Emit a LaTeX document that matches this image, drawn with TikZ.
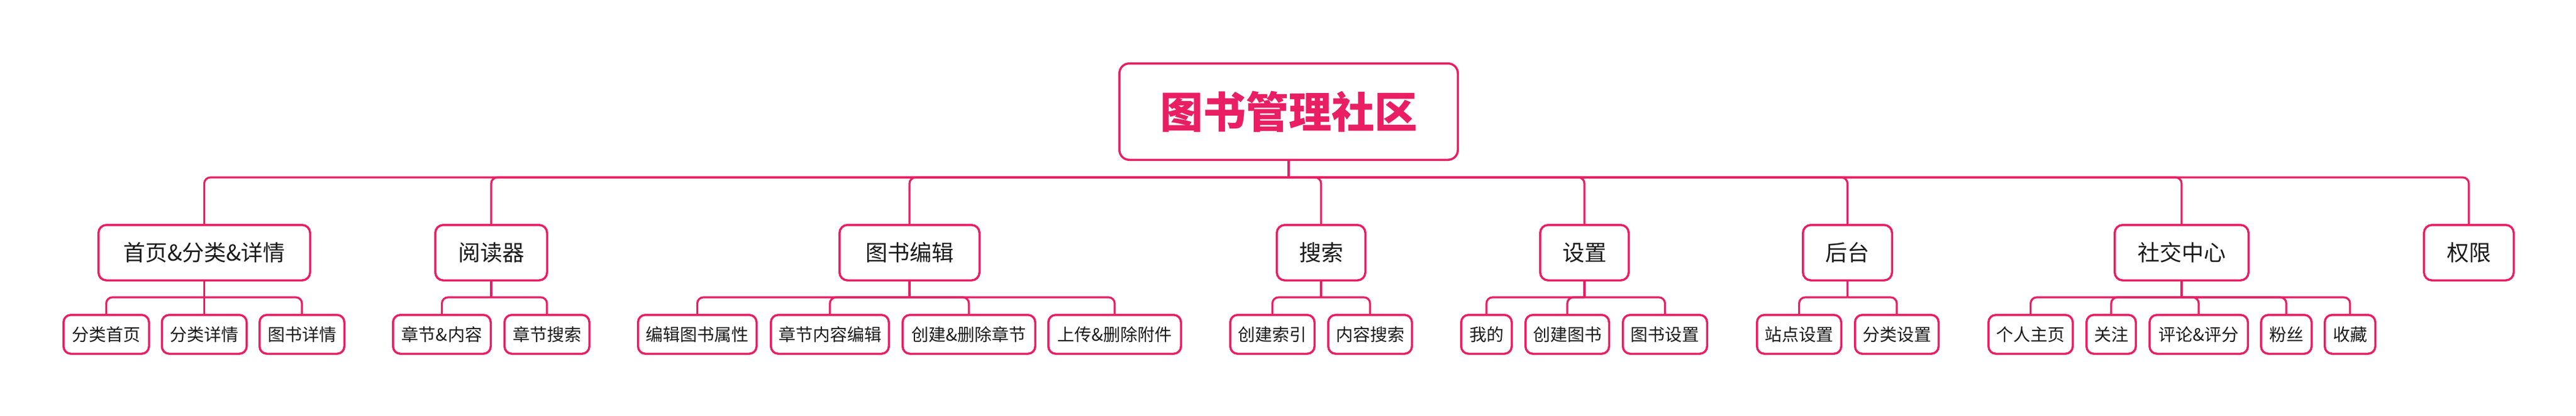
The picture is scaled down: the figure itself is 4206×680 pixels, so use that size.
\documentclass[tikz,border=0pt]{standalone}
\usepackage{fontspec}
\setmainfont{Noto Sans CJK SC}
\definecolor{pk}{HTML}{E91E63}
\definecolor{txt}{HTML}{1A1A1A}
\tikzset{
  rootbox/.style={draw=pk, line width=3.5pt, rounded corners=16pt, fill=white, text=pk,
    font=\fontsize{70}{84}\selectfont\bfseries, minimum height=157.5pt, inner sep=0pt},
  topbox/.style={draw=pk, line width=3.5pt, rounded corners=13pt, fill=white, text=txt,
    font=\fontsize{36}{43}\selectfont, minimum height=90.5pt, inner sep=0pt},
  leafbox/.style={draw=pk, line width=3.5pt, rounded corners=12pt, fill=white, text=txt,
    font=\fontsize{28}{34}\selectfont, minimum height=63.5pt, inner sep=0pt},
  link/.style={draw=pk, line width=3.2pt, rounded corners=10pt}
}
\begin{document}
\begin{tikzpicture}[x=1pt,y=-1pt]
\useasboundingbox[fill=white] (0,0) rectangle (4206,680);
% root
\node[rootbox, minimum width=552.5pt] (root) at (2104,182.5) {图书管理社区};
% level 1
\node[topbox, minimum width=345.5pt] (A) at (333.5,413) {首页\&分类\&详情};
\node[topbox, minimum width=182.5pt] (B) at (802,413) {阅读器};
\node[topbox, minimum width=228.5pt] (C) at (1485,413) {图书编辑};
\node[topbox, minimum width=144.5pt] (D) at (2157,413) {搜索};
\node[topbox, minimum width=144.5pt] (E) at (2587,413) {设置};
\node[topbox, minimum width=145.5pt] (F) at (3016.5,413) {后台};
\node[topbox, minimum width=218.5pt] (G) at (3562,413) {社交中心};
\node[topbox, minimum width=146.5pt] (H) at (4031,413) {权限};
% leaves
\node[leafbox, minimum width=139.5pt] (A1) at (173.5,546.5) {分类首页};
\node[leafbox, minimum width=138.5pt] (A2) at (333.5,546.5) {分类详情};
\node[leafbox, minimum width=138.5pt] (A3) at (493,546.5) {图书详情};
\node[leafbox, minimum width=159.5pt] (B1) at (721.5,546.5) {章节\&内容};
\node[leafbox, minimum width=138.5pt] (B2) at (893,546.5) {章节搜索};
\node[leafbox, minimum width=193.5pt] (C1) at (1138.5,546.5) {编辑图书属性};
\node[leafbox, minimum width=192.5pt] (C2) at (1355,546.5) {章节内容编辑};
\node[leafbox, minimum width=216.5pt] (C3) at (1582,546.5) {创建\&删除章节};
\node[leafbox, minimum width=216.5pt] (C4) at (1820,546.5) {上传\&删除附件};
\node[leafbox, minimum width=137.5pt] (D1) at (2077.5,546.5) {创建索引};
\node[leafbox, minimum width=136.5pt] (D2) at (2237,546.5) {内容搜索};
\node[leafbox, minimum width=82.5pt] (E1) at (2427,546.5) {我的};
\node[leafbox, minimum width=136.5pt] (E2) at (2559,546.5) {创建图书};
\node[leafbox, minimum width=137.5pt] (E3) at (2718.5,546.5) {图书设置};
\node[leafbox, minimum width=137.5pt] (F1) at (2937.5,546.5) {站点设置};
\node[leafbox, minimum width=136.5pt] (F2) at (3097,546.5) {分类设置};
\node[leafbox, minimum width=137.5pt] (G1) at (3315.5,546.5) {个人主页};
\node[leafbox, minimum width=80.5pt] (G2) at (3447,546.5) {关注};
\node[leafbox, minimum width=160.5pt] (G3) at (3590,546.5) {评论\&评分};
\node[leafbox, minimum width=82.5pt] (G4) at (3733,546.5) {粉丝};
\node[leafbox, minimum width=82.5pt] (G5) at (3837,546.5) {收藏};
% junctions
\coordinate (rj) at (root.south |- 0,290);
\coordinate (Aj) at (A.south |- 0,486);
\coordinate (Bj) at (B.south |- 0,486);
\coordinate (Cj) at (C.south |- 0,486);
\coordinate (Dj) at (D.south |- 0,486);
\coordinate (Ej) at (E.south |- 0,486);
\coordinate (Fj) at (F.south |- 0,486);
\coordinate (Gj) at (G.south |- 0,486);
% connectors root
\draw[link] (root.south) -- (rj);
\foreach \n in {A,B,C,D,E,F,G,H} {\draw[link] (rj) -| (\n.north);}
% connectors level 1
\foreach \p/\kids in {A/{A1,A2,A3},B/{B1,B2},C/{C1,C2,C3,C4},D/{D1,D2},E/{E1,E2,E3},F/{F1,F2},G/{G1,G2,G3,G4,G5}} {
  \draw[link] (\p.south) -- (\p j);
  \foreach \k in \kids {\draw[link] (\p j) -| (\k.north);}
}
\end{tikzpicture}
\end{document}
